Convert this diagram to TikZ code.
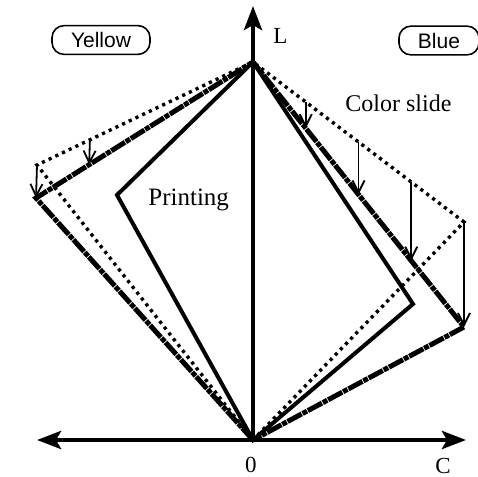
\documentclass[tikz,border=0pt]{standalone}
\usepackage{fontspec}
\setmainfont{Liberation Serif}
\setsansfont{Liberation Sans}
\usetikzlibrary{arrows.meta,calc}

\begin{document}
\begin{tikzpicture}[x=0.5pt,y=-0.5pt,
    axis/.style={line width=2.2pt,>={Stealth[length=12pt,width=9pt,inset=2.5pt]}},
    printline/.style={line width=2pt,line join=miter},
    slideline/.style={line width=1.7pt,dash pattern=on 1.6pt off 2.1pt},
    reproline/.style={line width=2.5pt,dash pattern=on 8pt off 0.5pt on 2.5pt off 0.5pt},
    shiftarrow/.style={line width=0.9pt,-{Straight Barb[length=6pt,width=6pt]}},
    tag/.style={draw,rounded corners=6pt,line width=0.8pt,inner xsep=9.5pt,minimum height=12.5pt,
        font=\sffamily\fontsize{10.5}{12}\selectfont},
    lab/.style={inner sep=0pt,font=\fontsize{11.5}{13}\selectfont}]
    \useasboundingbox (0,0) rectangle (478,477);
    \coordinate (O) at (253,440);
    \coordinate (W) at (253,62);
    \coordinate (cmin) at (37,440);
    \coordinate (cmax) at (466,440);
    \coordinate (lmax) at (253,6);
    \coordinate (P1) at (117,195);
    \coordinate (P2) at (413,304);
    \coordinate (D1) at (37,165);
    \coordinate (D2) at (464,222);
    \coordinate (R1) at (36,198);
    \coordinate (R2) at (464,327);
    \draw [axis,<->] (cmin) -- (cmax);
    \draw [axis,->] (O) -- (lmax);
    \draw [slideline] (O) -- (D1) -- (W) -- (D2) -- cycle;
    \draw [reproline] (O) -- (R1) -- (W) -- (R2) -- cycle;
    \draw [printline] (O) -- (P1) -- (W) -- (P2) -- cycle;
    \foreach \t in {0.25,0.5,0.75,1}
        \draw [shiftarrow] ($(W)!\t!(D2)$) -- ($(W)!\t!(R2)$);
    \foreach \t in {0.755,1}
        \draw [shiftarrow] ($(W)!\t!(D1)$) -- ($(W)!\t!(R1)$);
    \node [tag] (yellow) at (101,40) {Yellow};
    \node [tag] (blue) at (439,40.5) {Blue};
    \node [lab,anchor=base west,font=\fontsize{12.5}{14}\selectfont] (printing) at (148,205) {Printing};
    \node [lab,anchor=base west,font=\fontsize{12}{14}\selectfont] (slide) at (345,111) {Color slide};
    \node [lab,anchor=base west] (llab) at (273,43) {L};
    \node [lab,anchor=base] (zero) at (251,472) {0};
    \node [lab,anchor=base] (clab) at (443,473) {C};
\end{tikzpicture}
\end{document}
